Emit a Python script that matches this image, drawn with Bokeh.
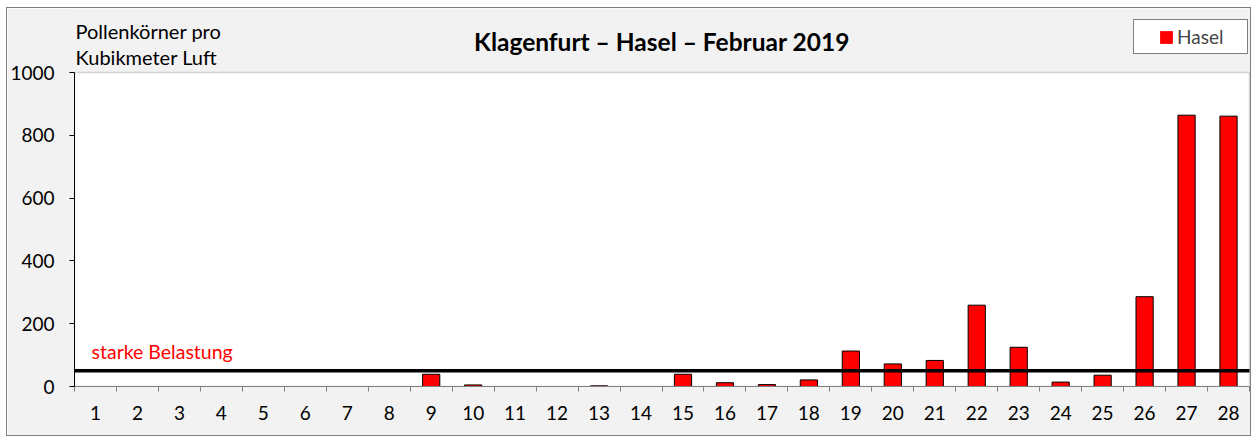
from bokeh.plotting import figure
from bokeh.models import Range1d, FixedTicker, Label, Legend, LegendItem, ColumnDataSource, BoxAnnotation
from bokeh.embed import file_html
from bokeh.resources import INLINE

# ---- data ----
days = list(range(1, 29))
day_labels = [str(d) for d in days]
hasel = [0, 0, 0, 0, 0, 0, 0, 0, 39, 5, 0, 0, 2, 0, 39, 12, 6, 21,
         113, 72, 83, 259, 125, 14, 36, 286, 864, 861]
threshold = 50
y_ticks = [0, 200, 400, 600, 800, 1000]
y_max = 1000
series_name = "Hasel"
title_text = "Klagenfurt – Hasel – Februar 2019"
unit_lines = ["Pollenkörner pro", "Kubikmeter Luft"]
threshold_text = "starke Belastung"

# ---- layout (pixels) ----
FONT = "Lato"
FS = "19px"
W, H = 1245, 429
LEFT, BOTTOM = 66, 51            # frame borders inside the canvas
PX_PER_DAY = 42.0                # plot area width per category
PX_PER_UNIT = 0.314              # plot area height per pollen unit
frame_w = W - LEFT
frame_h = H - BOTTOM
x0 = days[0] - 0.5
x1 = days[-1] + 0.5
x_end = x0 + frame_w / PX_PER_DAY
y_end = frame_h / PX_PER_UNIT

p = figure(width=W, height=H, output_backend="svg", toolbar_location=None, title=None,
           x_range=Range1d(x0, x_end), y_range=Range1d(0, y_end),
           min_border_left=LEFT, min_border_right=0, min_border_top=0, min_border_bottom=BOTTOM,
           background_fill_color="#f2f2f2", border_fill_color="#f2f2f2")
p.styles = {"border": "1px solid #7f7f7f", "margin-left": "6px", "margin-top": "7px"}
p.outline_line_color = None
p.xgrid.grid_line_color = None
p.ygrid.grid_line_color = None

# white plot area with grey outline
p.add_layout(BoxAnnotation(left=x0, right=x1, bottom=0, top=y_max, fill_color="white",
                           fill_alpha=1, line_color="#7f7f7f", line_width=1.5, level="underlay"))

src = ColumnDataSource(dict(x=days, top=hasel, la=[1.0 if v > 0 else 0.0 for v in hasel]))
bars = p.vbar(x="x", top="top", bottom=0, width=0.41, source=src,
              fill_color="#ff0000", line_color="black", line_alpha="la", line_width=1)
dummy = p.vbar(x=[], top=[], width=0.4, fill_alpha=0, line_alpha=0)

# threshold line
p.segment(x0=[x0], y0=[threshold], x1=[x1], y1=[threshold], line_color="black", line_width=3.5)

xa = p.xaxis[0]
xa.bounds = (x0, x1)
xa.ticker = FixedTicker(ticks=days, minor_ticks=[d + 0.5 for d in range(0, 29)])
xa.major_label_overrides = {d: l for d, l in zip(days, day_labels)}
xa.major_tick_line_color = None
xa.major_tick_out = 5
xa.major_tick_in = 0
xa.minor_tick_out = 5
xa.minor_tick_in = 0
xa.minor_tick_line_color = "#7f7f7f"
xa.axis_line_color = "#7f7f7f"
xa.major_label_standoff = 14
xa.major_label_text_font = FONT
xa.major_label_text_font_size = FS
xa.major_label_text_color = "black"

ya = p.yaxis[0]
ya.bounds = (0, y_max)
ya.ticker = FixedTicker(ticks=y_ticks)
ya.minor_tick_line_color = None
ya.major_tick_out = 5
ya.major_tick_in = 0
ya.major_tick_line_color = "black"
ya.axis_line_color = "black"
ya.major_label_standoff = 15
ya.major_label_text_font = FONT
ya.major_label_text_font_size = FS
ya.major_label_text_color = "black"

# title
p.add_layout(Label(x=(x0 + x1) / 2, y=y_max, y_offset=31, text=title_text,
                   text_align="center", text_baseline="middle", text_font=FONT,
                   text_font_size="24.5px", text_font_style="bold", text_color="black"))

# unit text
for txt, yoff in zip(unit_lines, [42, 15.5]):
    p.add_layout(Label(x=x0, y=y_max, x_offset=1, y_offset=yoff, text=txt,
                       text_baseline="middle", text_font=FONT, text_font_size="20px",
                       text_color="black"))

p.add_layout(Label(x=x0, y=threshold, x_offset=17, y_offset=19, text=threshold_text,
                   text_baseline="middle", text_font=FONT, text_font_size="19.5px",
                   text_color="#ff0000"))

legend = Legend(items=[LegendItem(label=" ", renderers=[dummy]),
                       LegendItem(label=series_name, renderers=[bars]),
                       LegendItem(label=" ", renderers=[dummy])],
                orientation="horizontal", location=(1059, 332), margin=0, padding=5,
                spacing=0, label_standoff=3, glyph_width=16, glyph_height=16,
                label_width=0, label_text_font=FONT, label_text_font_size=FS,
                border_line_color="black", border_line_width=1,
                background_fill_color="white", background_fill_alpha=1)
p.add_layout(legend, "center")

open("out.html", "w").write(file_html(p, INLINE))
